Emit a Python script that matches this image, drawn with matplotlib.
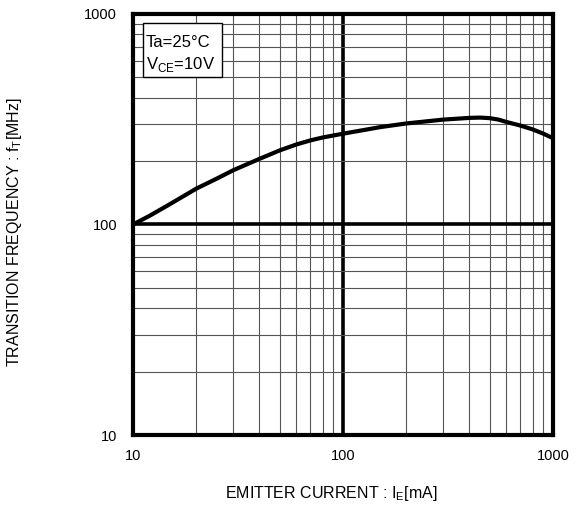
import matplotlib
matplotlib.use('Agg')
import matplotlib.pyplot as plt
from matplotlib.patches import Rectangle
from matplotlib.ticker import LogLocator, NullFormatter, FixedLocator

plt.rcParams['font.family'] = ['Liberation Sans', 'DejaVu Sans']

# Curve: emitter current (mA) vs transition frequency (MHz)
ie_ma = [10, 12, 15, 20, 25, 30, 40, 50, 60, 70, 80, 100, 150, 200, 300,
         400, 450, 500, 550, 600, 700, 800, 900, 1000]
ft_mhz = [100, 110, 125, 148, 165, 181, 205, 225, 240, 251, 259, 270, 290, 302, 315,
          321, 322, 320, 315, 307, 295, 283, 270, 257]

x_ticks = [10, 100, 1000]
y_ticks = [10, 100, 1000]

fig = plt.figure(figsize=(5.82, 5.11), dpi=100)
ax = fig.add_axes([133 / 582, 1 - 435 / 511, 420 / 582, 421 / 511])

ax.set_xscale('log')
ax.set_yscale('log')
ax.set_xlim(10, 1000)
ax.set_ylim(10, 1000)

# grid: thin minors, thick majors
ax.xaxis.set_major_locator(FixedLocator(x_ticks))
ax.yaxis.set_major_locator(FixedLocator(y_ticks))
ax.xaxis.set_minor_locator(LogLocator(base=10, subs=range(2, 10)))
ax.yaxis.set_minor_locator(LogLocator(base=10, subs=range(2, 10)))
ax.xaxis.set_minor_formatter(NullFormatter())
ax.yaxis.set_minor_formatter(NullFormatter())
ax.set_xticklabels([str(v) for v in x_ticks])
ax.set_yticklabels([str(v) for v in y_ticks])
ax.grid(which='minor', color='#555555', lw=0.8)
ax.grid(which='major', color='black', lw=2.6)
ax.tick_params(which='both', length=0, labelsize=10.5)
ax.tick_params(axis='x', pad=10)
ax.tick_params(axis='y', pad=11.5)
ax.set_axisbelow(True)
for s in ax.spines.values():
    s.set_linewidth(3)

ax.plot(ie_ma, ft_mhz, color='black', lw=3, solid_capstyle='butt', zorder=5)

# condition box
ax.add_patch(Rectangle((0.024, 0.850), 0.188, 0.129, transform=ax.transAxes,
                       fc='white', ec='black', lw=1, zorder=6))
ax.text(0.03, 0.932, 'Ta=25\u00b0C', transform=ax.transAxes,
        fontsize=12, va='center', ha='left', zorder=7)
ax.text(0.03, 0.880, 'V$_{\\mathregular{CE}}$=10V', transform=ax.transAxes,
        fontsize=12, va='center', ha='left', zorder=7)

fig.text(331 / 582, 1 - 493 / 511, 'EMITTER CURRENT : I$_{\\mathregular{E}}$[mA]',
         ha='center', va='center', fontsize=11.5)
fig.text(15 / 582, 1 - 232 / 511, 'TRANSITION FREQUENCY : f$_{\\mathregular{T}}$[MHz]',
         ha='center', va='center', rotation=90, fontsize=11.5)

fig.savefig('out.png', dpi=100)
